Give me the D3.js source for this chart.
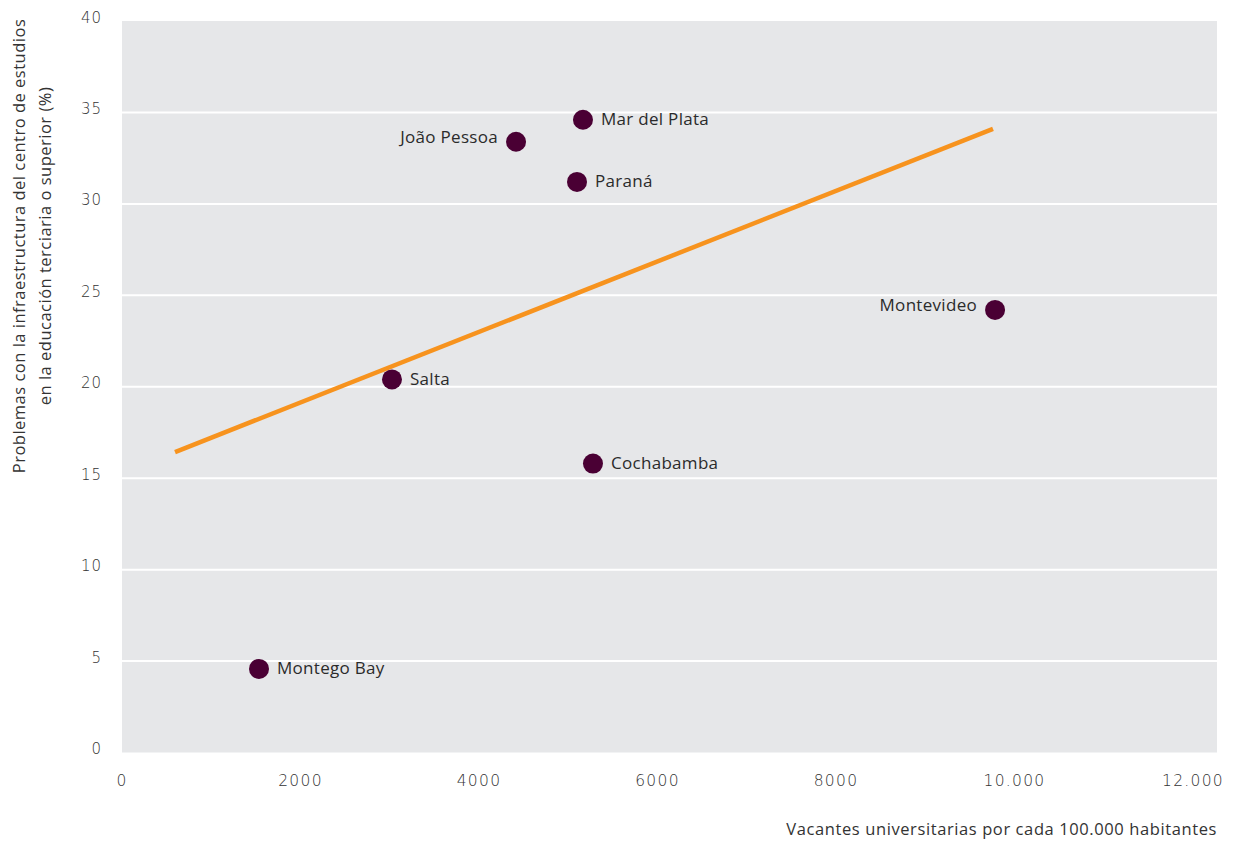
<!DOCTYPE html>
<html><head><meta charset="utf-8">
<script src="https://cdn.jsdelivr.net/npm/d3@7"></script>
<style>body{margin:0;background:#fff}</style>
</head><body>
<svg id="c" width="1233" height="846"></svg>
<script>
const cities = ["Montego Bay","Salta","João Pessoa","Mar del Plata","Paraná","Cochabamba","Montevideo"];
const vacantes = [1535, 3025, 4415, 5165, 5098, 5277, 9782];
const problemas = [4.57, 20.4, 33.4, 34.6, 31.2, 15.8, 24.2];
const labelSide = ["right","right","left","right","right","right","left"];
const trendX = [594, 9759];
const trendY = [16.43, 34.1];
const xTicks = [0,2000,4000,6000,8000,10000,12000];
const xTickLabels = ["0","2000","4000","6000","8000","10.000","12.000"];
const yTicks = [0,5,10,15,20,25,30,35,40];
const yTitle = ["Problemas con la infraestructura del centro de estudios","en la educación terciaria o superior (%)"];
const xTitle = "Vacantes universitarias por cada 100.000 habitantes";

const svg = d3.select("#c");
const x = d3.scaleLinear().domain([0,12000]).range([122,1193]);
const y = d3.scaleLinear().domain([0,40]).range([752.5,21]);
const plotRight = 1217;

svg.append("rect").attr("x",x(0)).attr("y",y(40)).attr("width",plotRight-x(0)).attr("height",y(0)-y(40)).attr("fill","#e6e7e9");

svg.append("g").selectAll("line").data(yTicks.filter(d=>d>0&&d<40)).join("line")
  .attr("x1",x(0)).attr("x2",plotRight).attr("y1",d=>y(d)).attr("y2",d=>y(d))
  .attr("stroke","#fff").attr("stroke-width",2);

const tickFont = "'DejaVu Sans', sans-serif";
svg.append("g").selectAll("text").data(yTicks).join("text")
  .attr("x",102).attr("y",d=>y(d)-3).attr("text-anchor","end").attr("dominant-baseline","middle")
  .attr("font-family",tickFont).attr("font-size",15).attr("font-weight",200).attr("letter-spacing",1).attr("fill","#333")
  .text(d=>d);

svg.append("g").selectAll("text").data(xTicks).join("text")
  .attr("x",d=>x(d)).attr("y",781).attr("text-anchor","middle").attr("dominant-baseline","middle")
  .attr("font-family",tickFont).attr("font-size",15.5).attr("font-weight",200).attr("letter-spacing",1.3).attr("fill","#333")
  .text((d,i)=>xTickLabels[i]);

svg.append("text").attr("x",plotRight).attr("y",831).attr("text-anchor","end").attr("dominant-baseline","middle")
  .attr("font-family","'Open Sans', sans-serif").attr("font-size",16.5).attr("letter-spacing",0.6).attr("fill","#333").text(xTitle);

const yt = svg.append("text").attr("transform","translate(0,246) rotate(-90)")
  .attr("text-anchor","middle").attr("font-family","'Open Sans', sans-serif").attr("font-size",16.5).attr("letter-spacing",0.5).attr("fill","#333");
yt.selectAll("tspan").data(yTitle).join("tspan").attr("x",0).attr("y",(d,i)=>25+i*26).text(d=>d);

svg.append("line").attr("x1",x(trendX[0])).attr("y1",y(trendY[0])).attr("x2",x(trendX[1])).attr("y2",y(trendY[1]))
  .attr("stroke","#f7931e").attr("stroke-width",4.5).attr("stroke-linecap","butt");

const data = cities.map((c,i)=>({c, x:vacantes[i], y:problemas[i], side:labelSide[i]}));
svg.append("g").selectAll("circle").data(data).join("circle")
  .attr("cx",d=>x(d.x)).attr("cy",d=>y(d.y)).attr("r",10).attr("fill","#4a0034");

svg.append("g").selectAll("text").data(data).join("text")
  .attr("x",d=>x(d.x)+(d.side==="right"?18:-18)).attr("y",d=>y(d.y)+(d.side==="left"?-3:1))
  .attr("text-anchor",d=>d.side==="right"?"start":"end").attr("dominant-baseline","middle")
  .attr("font-family","'Open Sans', sans-serif").attr("font-size",17).attr("letter-spacing",0.3).attr("fill","#2b2b2b")
  .text(d=>d.c);
</script>
</body></html>
